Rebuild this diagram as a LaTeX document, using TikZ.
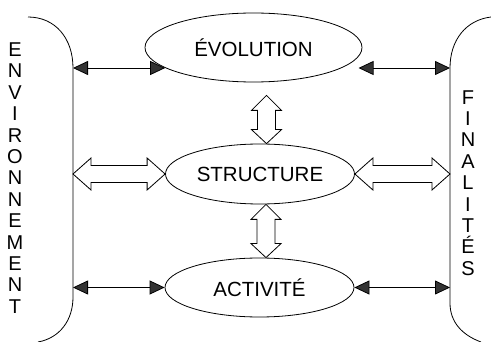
\documentclass[tikz,border=0pt]{standalone}
\usepackage{fontspec}
\setmainfont{Liberation Sans}
\usetikzlibrary{shapes.geometric, arrows.meta, calc}

\tikzset{
  box/.style={draw, ellipse, line width=0.8pt, inner sep=0pt, font=\fontsize{20.5}{24}\selectfont},
  link/.style={line width=0.8pt, {Triangle[length=15pt,width=14pt,fill=black!80]}-{Triangle[length=15pt,width=14pt,fill=black!80]}},
  hollow/.style={draw, fill=white, line width=0.8pt},
  side/.style={draw, line width=0.8pt},
  letters/.style={align=center, inner sep=0pt, font=\fontsize{20}{21.4}\selectfont}
}
\newcommand{\hdarrow}[2]{\path[hollow] let \p1=(#1), \p2=(#2) in
  (\x1,\y1) -- (\x1+18pt,\y1+16pt) -- (\x1+18pt,\y1+8.5pt) -- (\x2-18pt,\y1+8.5pt)
  -- (\x2-18pt,\y1+16pt) -- (\x2,\y1) -- (\x2-18pt,\y1-16pt) -- (\x2-18pt,\y1-8.5pt)
  -- (\x1+18pt,\y1-8.5pt) -- (\x1+18pt,\y1-16pt) -- cycle;}
\newcommand{\vdarrow}[2]{\path[hollow] let \p1=(#1), \p2=(#2) in
  (\x1,\y1) -- (\x1+15pt,\y1-15pt) -- (\x1+9pt,\y1-15pt) -- (\x1+9pt,\y2+14pt)
  -- (\x1+15pt,\y2+14pt) -- (\x1,\y2) -- (\x1-15pt,\y2+14pt) -- (\x1-9pt,\y2+14pt)
  -- (\x1-9pt,\y1-15pt) -- (\x1-15pt,\y1-15pt) -- cycle;}

\begin{document}
\begin{tikzpicture}[x=1pt, y=-1pt]
  \useasboundingbox (0,0) rectangle (491,342);

  \node[box, minimum width=217pt, minimum height=69pt] (evo) at (253.5,47.5) {ÉVOLUTION};
  \node[box, minimum width=189pt, minimum height=60pt] (struct) at (260,174) {STRUCTURE};
  \node[box, minimum width=189pt, minimum height=59pt] (act) at (259.5,287.5) {ACTIVITÉ};

  \node[letters] (env) at (15,178) {E\\N\\V\\I\\R\\O\\N\\N\\E\\M\\E\\N\\T};
  \node[letters] (fin) at (468,183) {F\\I\\N\\A\\L\\I\\T\\É\\S};

  \coordinate (envline) at (73,68);
  \coordinate (finline) at (450,68);

  \path[side] (28,17) .. controls (55,17) and (73,38) .. (envline) -- (73,297)
    .. controls (73,320) and (60,338) .. (38,342);
  \path[side] (491,17) .. controls (466,20) and (450,40) .. (finline) -- (450,303)
    .. controls (450,322) and (462,335) .. (481,342);

  \draw[link] (envline) -- (envline -| evo.193);
  \draw[link] (evo.-5 |- finline) -- (finline);
  \draw[link] (act.west -| envline) -- (act.west);
  \draw[link] (act.east) -- (act.east -| finline);

  \hdarrow{struct.west -| envline}{struct.west}
  \hdarrow{struct.east}{struct.east -| finline}
  \vdarrow{$(evo.south)+(13,13)$}{struct.north}
  \vdarrow{$(struct.south)+(6,0)$}{act.north}
\end{tikzpicture}
\end{document}
